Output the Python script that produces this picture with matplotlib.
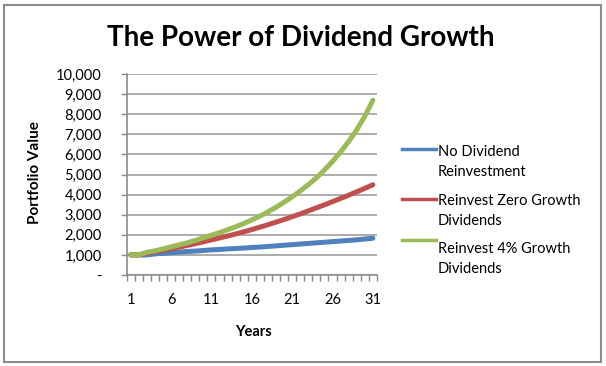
import matplotlib
matplotlib.use("Agg")
import matplotlib.pyplot as plt
from matplotlib.lines import Line2D
from matplotlib.patches import Rectangle
from matplotlib.ticker import FixedLocator, FuncFormatter

plt.rcParams['font.family'] = ['Lato', 'DejaVu Sans']

# Data (portfolio value by year)
years = list(range(1, 32))
no_reinvest = [1000, 990, 1000, 1050, 1080, 1110, 1140, 1170, 1190, 1220,
               1250, 1270, 1300, 1320, 1340, 1370, 1390, 1420, 1450, 1480,
               1510, 1540, 1570, 1600, 1630, 1660, 1690, 1720, 1750, 1790, 1830]
reinvest_zero = [1000, 1010, 1080, 1150, 1230, 1310, 1390, 1470, 1560, 1650,
                 1750, 1840, 1940, 2040, 2150, 2260, 2380, 2500, 2630, 2760,
                 2900, 3040, 3190, 3340, 3490, 3650, 3810, 3970, 4140, 4310, 4490]
reinvest_4pct = [1000, 1000, 1130, 1200, 1300, 1400, 1500, 1600, 1720, 1850,
                 1980, 2110, 2250, 2400, 2560, 2740, 2930, 3140, 3370, 3620,
                 3890, 4180, 4490, 4830, 5220, 5650, 6120, 6640, 7220, 7900, 8690]
series_names = ["No Dividend\nReinvestment",
                "Reinvest Zero Growth\nDividends",
                "Reinvest 4% Growth\nDividends"]
colors = ["#4F81BD", "#C0504D", "#9BBB59"]
x_tick_labels = [1, 6, 11, 16, 21, 26, 31]

W, H = 606, 366
fig = plt.figure(figsize=(W / 100, H / 100), dpi=100)

# outer chart border
fig.patches.append(Rectangle((4 / W, 4 / H), 597 / W, 357 / H, transform=fig.transFigure,
                             fill=False, edgecolor="#8C8C8C", lw=1.5))

ax = fig.add_axes([126.7 / W, (H - 275) / H, 250.2 / W, 201 / H])

for vals, c in zip([no_reinvest, reinvest_zero, reinvest_4pct], colors):
    ax.plot(years, vals, color=c, lw=3.6, solid_capstyle="round", zorder=3)

ax.set_xlim(0.5, 31.5)
ax.set_ylim(0, 10000)
ax.yaxis.set_major_locator(FixedLocator(range(0, 10001, 1000)))
ax.yaxis.set_major_formatter(FuncFormatter(lambda v, p: "-" if v == 0 else f"{int(v):,}"))
ax.set_xticks(x_tick_labels)
ax.set_xticks([y + 0.5 for y in range(0, 32)], minor=True)
ax.tick_params(axis="x", which="major", length=0, pad=13, labelsize=10.5)
ax.tick_params(axis="x", which="minor", length=4, color="#8C8C8C", width=1)
ax.tick_params(axis="y", length=4, color="#8C8C8C", width=1, pad=14, labelsize=10.5)

ax.grid(axis="y", color="#A6A6A6", lw=1.3)
ax.set_axisbelow(True)
for s in ["top", "right"]:
    ax.spines[s].set_visible(False)
for s in ["left", "bottom"]:
    ax.spines[s].set_color("#8C8C8C")
    ax.spines[s].set_linewidth(1.2)

fig.text(301 / W, 1 - 38 / H, "The Power of Dividend Growth", ha="center", va="center",
         fontsize=20, fontweight="bold")
fig.text(35 / W, 1 - 173 / H, "Portfolio Value", rotation=90, ha="center", va="center",
         fontsize=11, fontweight="bold")
fig.text(253 / W, 1 - 332 / H, "Years", ha="center", va="center",
         fontsize=10.5, fontweight="bold")

# legend (handle aligned with first text line, like Excel)
line_y = [149, 199, 240]
text_y = [152, 201, 249]
for name, c, ly, ty in zip(series_names, colors, line_y, text_y):
    fig.add_artist(Line2D([402 / W, 436 / W], [1 - ly / H, 1 - ly / H],
                          transform=fig.transFigure, color=c, lw=2.5))
    for i, part in enumerate(name.split("\n")):
        fig.text(438 / W, 1 - (ty + i * 20) / H, part, ha="left", va="center", fontsize=10.5)

fig.savefig("out.png", dpi=100)
